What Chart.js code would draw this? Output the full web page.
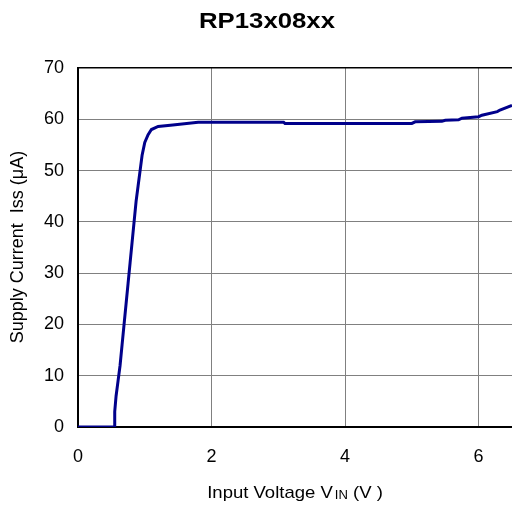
<!DOCTYPE html>
<html><head><meta charset="utf-8">
<script src="https://cdn.jsdelivr.net/npm/chart.js@4/dist/chart.umd.min.js"></script>
<style>html,body{margin:0;padding:0;background:#fff}#wrap{width:512px;height:506px}</style>
</head><body><div id="wrap"><canvas id="c" width="512" height="506"></canvas></div>
<script>
const titleText = "RP13x08xx";
const voltage = [0, 0.54, 0.55, 0.57, 0.60, 0.63, 0.66, 0.69, 0.72, 0.75, 0.78, 0.81, 0.84, 0.87, 0.90, 0.93, 0.96, 1.00, 1.05, 1.10, 1.20, 1.42, 1.80, 3.08, 3.10, 5.00, 5.05, 5.45, 5.50, 5.70, 5.75, 6.00, 6.05, 6.28, 6.32, 6.50];
const current = [0, 0, 3, 6, 9, 12, 16, 20, 24, 28, 32, 36, 40, 44, 47, 50, 53, 55.5, 57, 58, 58.6, 58.9, 59.4, 59.4, 59.2, 59.2, 59.5, 59.6, 59.8, 59.9, 60.2, 60.5, 60.8, 61.5, 61.8, 62.7];
const xTicks = [0, 2, 4, 6];
const yTicks = [0, 10, 20, 30, 40, 50, 60, 70];

const FONT = "Arial, 'Liberation Sans', sans-serif";
const textPlugin = {
  id: 'texts',
  afterDraw(chart) {
    const ctx = chart.ctx;
    ctx.save();
    ctx.fillStyle = '#000';
    ctx.textBaseline = 'middle';
    ctx.textAlign = 'center';
    ctx.font = "bold 22px " + FONT;
    ctx.translate(267, 22);
    ctx.scale(1.17, 1);
    ctx.fillText(titleText, 0, 0);
    ctx.restore();

    // x title with subscript
    ctx.save();
    ctx.fillStyle = '#000';
    ctx.textAlign = 'left';
    ctx.textBaseline = 'alphabetic';
    const p1 = "Input Voltage V ", p2 = "IN", p3 = " (V )";
    ctx.font = "17px " + FONT; const w1 = ctx.measureText(p1).width; const w3 = ctx.measureText(p3).width;
    ctx.font = "12px " + FONT; const w2 = ctx.measureText(p2).width;
    const total = w1 + w2 + w3 - 3;
    ctx.translate(295, 498);
    ctx.scale(1.09, 1);
    let x0 = -total / 2;
    ctx.font = "17px " + FONT; ctx.fillText(p1, x0, 0);
    ctx.font = "12px " + FONT; ctx.fillText(p2, x0 + w1 - 3, 1);
    ctx.font = "17px " + FONT; ctx.fillText(p3, x0 + w1 + w2 - 3, 0);
    ctx.restore();

    // y title
    ctx.save();
    ctx.fillStyle = '#000';
    ctx.translate(18, 247);
    ctx.rotate(-Math.PI / 2);
    ctx.textAlign = 'center';
    ctx.textBaseline = 'middle';
    ctx.font = "18px " + FONT;
    ctx.fillText("Supply Current  Iss (\u03bcA)", 0, 0);
    ctx.restore();
  }
};

new Chart(document.getElementById('c'), {
  type: 'line',
  data: {
    datasets: [{
      data: voltage.map((v, i) => ({ x: v, y: current[i] })),
      borderColor: '#00008B',
      borderWidth: 3,
      pointRadius: 0,
      tension: 0,
      fill: false
    }]
  },
  options: {
    responsive: false,
    animation: false,
    layout: { padding: { left: 0, top: 68, right: 0, bottom: 0 } },
    plugins: { legend: { display: false }, title: { display: false }, tooltip: { enabled: false } },
    scales: {
      x: {
        type: 'linear', min: 0, max: 6.5,
        afterBuildTicks: s => { s.ticks = xTicks.map(v => ({ value: v })); },
        afterFit: s => { s.height = 79; },
        grid: { color: '#808080', lineWidth: 1, drawTicks: false },
        border: { color: '#000', width: 2 },
        ticks: { color: '#000', font: { size: 18, family: FONT }, padding: 19, maxRotation: 0 }
      },
      y: {
        min: 0, max: 70,
        afterBuildTicks: s => { s.ticks = yTicks.map(v => ({ value: v })); },
        afterFit: s => { s.width = 78; },
        grid: { color: c => c.tick && c.tick.value === 70 ? '#000' : '#808080', lineWidth: c => c.tick && c.tick.value === 70 ? 1.5 : 1, drawTicks: false },
        border: { color: '#000', width: 2 },
        ticks: { color: '#000', font: { size: 18, family: FONT }, padding: 14 }
      }
    }
  },
  plugins: [textPlugin]
});
</script></body></html>
